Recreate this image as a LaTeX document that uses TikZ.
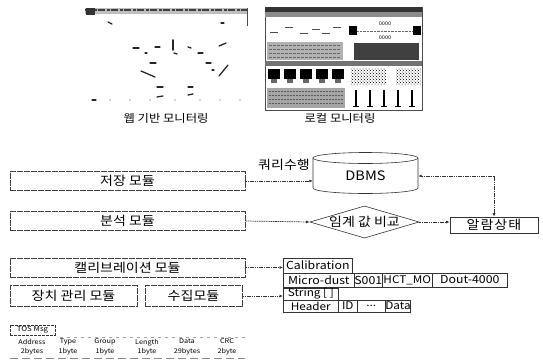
\documentclass[tikz,border=0pt]{standalone}
\usepackage{fontspec}
\setmainfont{Noto Sans CJK KR}[FakeStretch=1.12]
\usetikzlibrary{arrows.meta,shapes.geometric,patterns}
\begin{document}
\begin{tikzpicture}[x=1pt,y=-1pt,
  kfont/.style={font=\fontsize{12.5}{14}\selectfont},
  modbox/.style={draw=black!75, line width=0.6pt, dash pattern=on 6pt off 1pt,
    minimum height=19pt, inner sep=0pt, kfont},
  conn/.style={draw=black!80, line width=0.7pt, dash pattern=on 1.6pt off 0.7pt},
  tip/.style={-{Latex[length=3.5pt,width=3pt]}},
  cell/.style={draw=black!80, line width=0.6pt, inner sep=0pt, anchor=west,
    minimum height=14pt, font=\fontsize{11}{12}\selectfont},
  scell/.style={cell, minimum height=12pt, font=\fontsize{10.5}{11}\selectfont},
  stroke/.style={line width=1.3pt, line cap=round, black!85},
  tcol/.style={align=center, inner sep=0pt, font=\fontsize{6.5}{9.5}\selectfont}
]
\useasboundingbox (0,0) rectangle (543,360);

% ---------- web screenshot ----------
\fill[black!25] (85,8) rectangle (247,14);
\draw[black!75, line width=2.2pt, dash pattern=on 7pt off 2pt on 3pt off 1pt] (85,10) -- (247,10);
\draw[black!70, line width=0.5pt] (247,8) -- (247,26);
\fill[black!80] (86,8) rectangle (95,15);
\foreach \a/\b/\c/\d in {108/22/112/24, 133/48/139/48, 155/47/160/47, 188/47/191/48,
  198/53/203/53, 219/46/226/43, 150/63/156/63, 141/71/155/77, 206/63/211/63,
  219/76/228/65, 157/87/163/87, 157/97/163/96, 188/87/193/87, 188/95/193/94,
  92/100/96/100, 221/23/224/23, 145/53/147/53, 174/53/177/54, 212/70/214/70}
  \draw[stroke] (\a,\b) -- (\c,\d);
\draw[stroke, line width=1.8pt] (173,40) -- (173,50);
\foreach \x in {110,130,150,175,200,220,240}
  \fill[black!70] (\x,100) circle (0.6pt);

\node[font=\fontsize{11}{12}\selectfont] (webcap) at (166,118) {웹 기반 모니터링};

% ---------- local screenshot ----------
\draw[black!70, line width=0.5pt] (265,7) rectangle (422,110);
\fill[black!80] (265,7) rectangle (422,12);
\fill[black!45] (265,12) rectangle (422,17);
\foreach \x/\y in {270/32, 285/27, 300/33, 312/29, 322/33, 333/27}
  \draw[black!70, line width=1pt] (\x,\y) -- ++(8,0);
\fill[black] (349,26) rectangle (357,35);
\fill[black] (413,26) rectangle (421,35);
\draw[black!60, densely dotted] (357,31) -- (413,31);
\node[font=\fontsize{5}{5}\selectfont, inner sep=0pt] (zz1) at (385,24) {0000};
\node[font=\fontsize{5}{5}\selectfont, inner sep=0pt] (zz2) at (385,38) {0000};
\fill[black!30] (267,42) rectangle (343,60);
\foreach \y in {45,49,53,57}
  \draw[black!60, line width=0.8pt, dash pattern=on 3pt off 1pt] (269,\y) -- (341,\y);
\fill[black!75] (354,43) rectangle (419,60);
\fill[black!55] (265,61) rectangle (422,66);
\foreach \x in {268,284,300,316,332} {
  \fill[black] (\x,69) rectangle ++(12,10);
  \fill[black!60] (\x+3,79) rectangle ++(6,4);
}
\fill[pattern=crosshatch dots, pattern color=black] (351,68) rectangle (386,84);
\fill[pattern=crosshatch dots, pattern color=black] (396,68) rectangle (421,84);
\fill[black!35] (267,88) rectangle (345,108);
\foreach \y in {91,95,99,103}
  \draw[black!65, line width=0.8pt, dash pattern=on 2pt off 1pt] (269,\y) -- (343,\y);
\foreach \x in {356,370,384,398,412} {
  \draw[line width=1.2pt] (\x,90) -- (\x,106);
  \draw[line width=1pt] (\x-3,106) -- (\x+3,106);
}
\node[font=\fontsize{11}{12}\selectfont] (loccap) at (340,118) {로컬 모니터링};

% ---------- modules ----------
\node[modbox, minimum width=235pt] (save) at (127.5,181) {저장 모듈};
\node[modbox, minimum width=235pt] (anal) at (127.5,221) {분석 모듈};
\node[modbox, minimum width=235pt] (calmod) at (127.5,267.5) {캘리브레이션 모듈};
\node[modbox, minimum width=127pt, minimum height=21pt] (dev) at (73.5,296) {장치 관리 모듈};
\node[modbox, minimum width=97pt, minimum height=21pt] (coll) at (193.5,296) {수집모듈};

% DBMS cylinder
\draw[black!80, line width=0.6pt] (313,158) -- (313,188)
  arc[start angle=180, end angle=0, x radius=52.5, y radius=5.5] -- (418,158);
\draw[black!80, line width=0.6pt] (365.5,158) ellipse[x radius=52.5, y radius=5.5];
\node[minimum width=105pt, minimum height=30pt, inner sep=0pt,
  font=\fontsize{13}{14}\selectfont] (dbms) at (365.5,176) {DBMS};

\node[kfont] (query) at (284,165) {쿼리수행};

\node[diamond, draw=black!80, line width=0.6pt, minimum width=105pt,
  minimum height=31pt, inner sep=0pt, aspect=3.4, kfont] (cmp) at (364.5,222) {임계 값 비교};

\node[draw=black!80, line width=0.6pt, minimum width=88pt, minimum height=16pt,
  inner sep=0pt, font=\fontsize{12.5}{14}\addfontfeature{LetterSpace=8}\selectfont] (alarm) at (494,225) {알람상태};

% connectors
\draw[conn, tip] (save.east) -- (save.east -| dbms.west);
\draw[conn, tip] (anal.east) -- (cmp.west);
\draw[conn, tip] (cmp.east) -- (cmp.east -| alarm.west);
\draw[conn, {Latex[length=3.5pt,width=3pt]}-{Latex[length=3.5pt,width=3pt]}] (dbms.east) -| (alarm.north);

% ---------- data cells ----------
\node[cell, minimum width=69pt, minimum height=15pt] (cal) at (283,265.5) {Calibration};
\node[cell, minimum width=71pt] (micro) at (283,280) {Micro-dust};
\node[cell, minimum width=28pt] (s001) at (354,280) {S001};
\node[cell, minimum width=50pt, font=\fontsize{10.5}{11}\selectfont] (hct) at (382,280) {HCT\_MO};
\node[cell, minimum width=75pt] (dout) at (432,280) {Dout-4000};

\node[scell, minimum width=55pt] (str) at (283,294) {String [ ]};
\node[scell, minimum width=55pt] (hdr) at (283,306) {Header};
\node[scell, minimum width=19pt] (id) at (338,306) {ID};
\node[scell, minimum width=28pt] (dots) at (357,306) {...};
\node[scell, minimum width=24pt] (data) at (385,306) {Data};

\draw[conn, tip] (calmod.east) -- (calmod.east -| cal.west);
\draw[conn, tip] (coll.east) -- (coll.east -| str.west);

% ---------- TOS Msg ----------
\node[draw=black!80, line width=0.5pt, dash pattern=on 3pt off 1pt, minimum width=45pt,
  minimum height=10pt, inner sep=0pt, font=\fontsize{7}{8}\selectfont] (tos) at (32.5,330) {TOS Msg};
\draw[black!35, line width=0.5pt, dash pattern=on 3pt off 4pt] (60,337) -- (245,337);
\draw[black!45, line width=0.6pt, dash pattern=on 8pt off 4pt] (10,358) -- (245,358);
\node[tcol] (c1) at (32,347) {Address\\2bytes};
\node[tcol] (c2) at (68,347) {Type\\1byte};
\node[tcol] (c3) at (105,347) {Group\\1byte};
\node[tcol] (c4) at (147,347) {Length\\1byte};
\node[tcol] (c5) at (187,347) {Data\\29bytes};
\node[tcol] (c6) at (227,347) {CRC\\2byte};
\end{tikzpicture}
\end{document}
